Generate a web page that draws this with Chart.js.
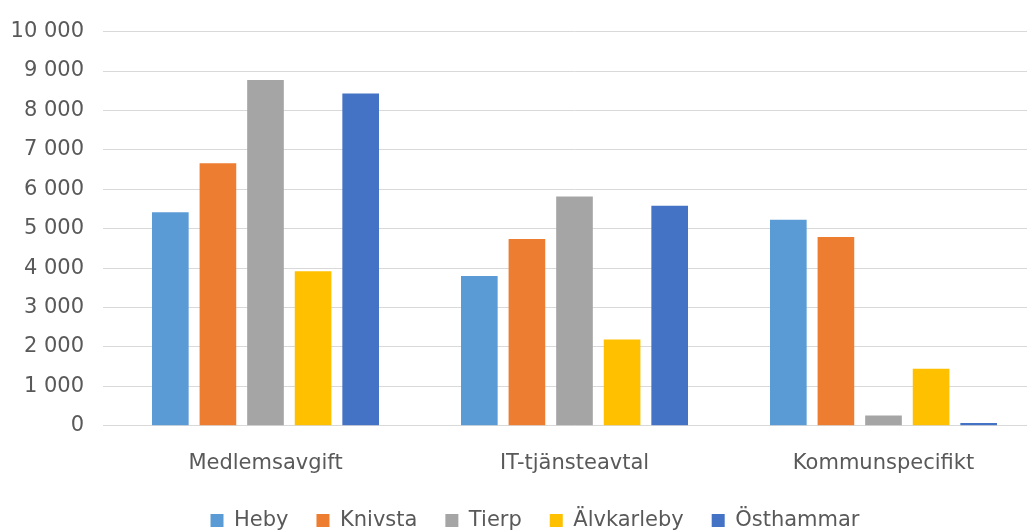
<!DOCTYPE html>
<html>
<head>
<meta charset="utf-8">
<script src="https://cdn.jsdelivr.net/npm/chart.js@4"></script>
<style>
html,body{margin:0;padding:0;background:#fff;overflow:hidden;width:1027px;height:531px;}
#wrap{position:absolute;left:-10px;top:0;width:1048px;height:531px;}
</style>
</head>
<body>
<div id="wrap"><canvas id="c" width="1048" height="531"></canvas></div>
<script>
const categories = ['Medlemsavgift', 'IT-tjänsteavtal', 'Kommunspecifikt'];
const seriesNames = ['Heby', 'Knivsta', 'Tierp', 'Älvkarleby', 'Östhammar'];
const heby = [5420, 3800, 5230];
const knivsta = [6660, 4740, 4790];
const tierp = [8770, 5820, 260];
const alvkarleby = [3920, 2190, 1450];
const osthammar = [8430, 5580, 70];
const yTicks = [0, 1000, 2000, 3000, 4000, 5000, 6000, 7000, 8000, 9000, 10000];

const colors = ['#5B9BD5', '#ED7D31', '#A5A5A5', '#FFC000', '#4472C4'];
const values = [heby, knivsta, tierp, alvkarleby, osthammar];
const FONT = 'DejaVu Sans';
const TXT = '#595959';

const fmt = v => String(v).replace(/\B(?=(\d{3})+(?!\d))/g, ' ');

const legendShift = {
  id: 'legendShift',
  afterLayout(chart) {
    if (chart.legend) { chart.legend.left += 20; chart.legend.right += 20; }
  }
};

new Chart(document.getElementById('c'), {
  type: 'bar',
  data: {
    labels: categories,
    datasets: seriesNames.map((n, i) => ({
      label: n,
      data: values[i],
      backgroundColor: colors[i],
      borderWidth: 0,
      categoryPercentage: 0.77,
      barPercentage: 0.77
    }))
  },
  plugins: [legendShift],
  options: {
    responsive: false,
    animation: false,
    devicePixelRatio: 1,
    layout: { padding: { left: 2, right: 0, top: 26, bottom: -10 } },
    plugins: {
      tooltip: { enabled: false },
      legend: {
        position: 'bottom',
        labels: {
          boxWidth: 13,
          boxHeight: 13,
          padding: 28,
          color: TXT,
          font: { family: FONT, size: 21 }
        }
      }
    },
    scales: {
      x: {
        grid: { display: false, drawTicks: false },
        border: { display: false },
        afterFit: s => { s.height -= 19; },
        ticks: { color: TXT, font: { family: FONT, size: 21 }, padding: 25 }
      },
      y: {
        min: 0,
        max: 10000,
        afterBuildTicks: s => { s.ticks = yTicks.map(v => ({ value: v })); },
        afterFit: s => { s.width = 119; },
        grid: { color: '#D9D9D9', lineWidth: 1, tickLength: 8, tickColor: '#D9D9D9' },
        border: { display: false },
        ticks: { color: TXT, font: { family: FONT, size: 21 }, padding: 19, callback: v => fmt(v) }
      }
    }
  }
});
</script>
</body>
</html>
